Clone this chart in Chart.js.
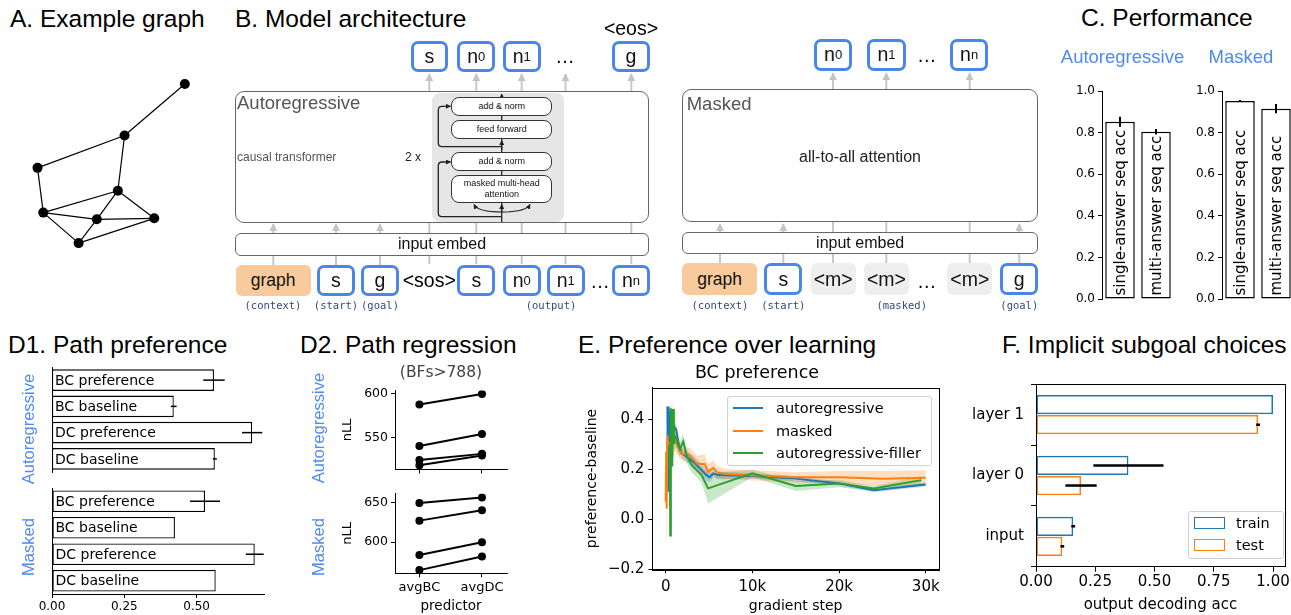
<!DOCTYPE html>
<html>
<head>
<meta charset="utf-8">
<title>Path planning figure</title>
<script src="https://cdn.jsdelivr.net/npm/chart.js@4.4.1/dist/chart.umd.min.js"></script>
<style>
body { margin:0; width:1291px; height:615px; position:relative; overflow:hidden; background:#fff; font-family:"Liberation Sans", Arial, sans-serif; }
canvas { position:absolute; }
.t { position:absolute; white-space:nowrap; line-height:1; z-index:6; }
.title { position:absolute; white-space:nowrap; line-height:1; font-size:24.5px; color:#000; }
.group { position:absolute; white-space:nowrap; line-height:1; color:#4e8af0; font-size:16.6px; transform:translate(-50%,-50%) rotate(-90deg); }
.tok { position:absolute; box-sizing:border-box; border:3px solid #4a86e8; border-radius:7px; background:#fff; display:flex; align-items:center; justify-content:center; font-size:19.5px; color:#111; z-index:3; }
.ctx { position:absolute; box-sizing:border-box; background:#f9cb9c; border-radius:6px; display:flex; align-items:center; justify-content:center; font-size:17.5px; color:#111; z-index:3; }
.msk { position:absolute; box-sizing:border-box; background:#eeeeee; border-radius:6px; display:flex; align-items:center; justify-content:center; font-size:19.5px; color:#111; z-index:3; }
.frame { position:absolute; box-sizing:border-box; border:1.6px solid #666; border-radius:9px; background:#fff; z-index:2; }
.embed { position:absolute; box-sizing:border-box; border:1.3px solid #666; border-radius:6px; background:#fff; z-index:2; display:flex; align-items:center; justify-content:center; font-size:16px; color:#111; }
.blk { position:absolute; background:#e6e6e6; border-radius:8px; z-index:3; }
.inner { position:absolute; box-sizing:border-box; border:1.2px solid #333; border-radius:8px; background:#fff; z-index:5; display:flex; align-items:center; justify-content:center; text-align:center; font-size:9px; line-height:11px; color:#111; }
.sub { font-size:13px; }
.legend { position:absolute; box-sizing:border-box; border:1px solid #d0d0d0; border-radius:3px; background:rgba(255,255,255,0.85); z-index:5; font-family:"DejaVu Sans", sans-serif; font-size:14.5px; }
</style>
</head>
<body>
<script>
// ---------- data ----------

// A. example graph (node layout)
var nodeX = [188, 125, 34, 118, 40, 96, 156, 77];
var nodeY = [80, 134, 168, 192, 215, 222, 221, 247];
var edges = [[0,1],[1,2],[1,3],[2,4],[4,3],[4,5],[4,7],[3,5],[3,6],[5,6],[5,7],[7,6]];

// C. performance
var perfLabels = ['single-answer seq acc', 'multi-answer seq acc'];
var perfAR = [0.852, 0.804];
var perfARErr = [0.024, 0.013];
var perfMasked = [0.952, 0.915];
var perfMaskedErr = [0.005, 0.022];
var accTicks = [0, 0.2, 0.4, 0.6, 0.8, 1.0];

// D1. path preference
var prefLabels = ['BC preference', 'BC baseline', 'DC preference', 'DC baseline'];
var prefAR = [0.56, 0.421, 0.692, 0.563];
var prefARErr = [0.037, 0.01, 0.035, 0.007];
var prefMasked = [0.529, 0.425, 0.701, 0.566];
var prefMaskedErr = [0.052, 0, 0.031, 0];
var prefTicks = [0, 0.25, 0.5];

// D2. path regression (nLL for avgBC, avgDC)
var predictors = ['avgBC', 'avgDC'];
var nllAR = [[588, 600], [540, 554], [524, 531], [518, 529]];
var nllMasked = [[649, 656], [627, 640], [584, 600], [565, 582]];
var nllARTicks = [550, 600];
var nllMaskedTicks = [600, 650];

// E. preference over learning
var arSteps  = [200, 260, 310, 360, 420, 600, 900, 1200, 1500, 1850, 2400, 3200, 3950, 4700, 5100, 5500, 6000, 10000, 15000, 20000, 24000, 30000];
var arMean   = [0.45, 0.12, 0.45, 0.11, 0.43, 0.36, 0.37, 0.36, 0.30, 0.263, 0.25, 0.229, 0.203, 0.176, 0.168, 0.183, 0.176, 0.172, 0.162, 0.143, 0.116, 0.139];
var arSpread = [0.01, 0.01, 0.01, 0.01, 0.02, 0.02, 0.02, 0.02, 0.02, 0.02, 0.02, 0.025, 0.025, 0.02, 0.02, 0.015, 0.015, 0.01, 0.01, 0.008, 0.008, 0.008];
var mkSteps  = [0, 60, 120, 200, 300, 500, 880, 1100, 1260, 1650, 2000, 2800, 3570, 3950, 4500, 4900, 5500, 6000, 7000, 10000, 15000, 20000, 25000, 30000];
var mkMean   = [0.07, 0.27, 0.043, 0.336, 0.30, 0.30, 0.32, 0.31, 0.30, 0.27, 0.26, 0.255, 0.223, 0.22, 0.22, 0.19, 0.205, 0.185, 0.18, 0.175, 0.167, 0.167, 0.162, 0.165];
var mkSpread = [0.15, 0.12, 0.12, 0.08, 0.06, 0.05, 0.04, 0.04, 0.04, 0.03, 0.03, 0.03, 0.03, 0.035, 0.04, 0.03, 0.03, 0.025, 0.02, 0.02, 0.02, 0.025, 0.03, 0.03];
var flSteps  = [480, 530, 600, 680, 760, 850, 950, 1100, 1250, 1400, 1650, 1840, 2030, 2400, 3000, 3570, 4140, 4900, 10000, 15000, 20000, 24000, 29500];
var flMean   = [0.30, -0.065, 0.443, 0.40, 0.21, 0.44, 0.30, 0.33, 0.323, 0.30, 0.28, 0.296, 0.31, 0.256, 0.216, 0.196, 0.176, 0.123, 0.183, 0.133, 0.143, 0.123, 0.156];
var flSpread = [0.05, 0.05, 0.05, 0.05, 0.06, 0.06, 0.05, 0.05, 0.04, 0.04, 0.03, 0.03, 0.03, 0.03, 0.03, 0.03, 0.03, 0.06, 0.015, 0.02, 0.015, 0.01, 0.015];
var stepTicks = [0, 10000, 20000, 30000];
var diffTicks = [-0.2, 0, 0.2, 0.4];

// F. implicit subgoal choices
var layers = ['layer 1', 'layer 0', 'input'];
var decTrain = [1.0, 0.39, 0.157];
var decTrainErr = [0, 0.148, 0.008];
var decTest = [0.937, 0.19, 0.111];
var decTestErr = [0.008, 0.066, 0.008];
var decTicks = [0, 0.25, 0.5, 0.75, 1.0];

// ---------- helpers ----------
var BLUE = '#1f77b4', ORANGE = '#ff7f0e', GREEN = '#2ca02c';

Chart.defaults.font.family = "'DejaVu Sans', sans-serif";
Chart.defaults.color = '#000';
Chart.defaults.animation = false;
Chart.defaults.responsive = false;
Chart.defaults.devicePixelRatio = 1;
Chart.defaults.plugins.legend.display = false;
Chart.defaults.plugins.tooltip.enabled = false;

// black error bars from dataset.errors
var errorBars = {
    id: 'errorBars',
    afterDatasetsDraw: function(chart){
        var ctx = chart.ctx;
        var horiz = chart.options.indexAxis === 'y';
        var vScale = horiz ? chart.scales.x : chart.scales.y;
        chart.data.datasets.forEach(function(ds, i){
            if(!ds.errors) return;
            var meta = chart.getDatasetMeta(i);
            ctx.save();
            ctx.strokeStyle = '#000';
            ctx.lineWidth = ds.errWidth || 2;
            meta.data.forEach(function(bar, j){
                var e = ds.errors[j];
                if(!e) return;
                var a = vScale.getPixelForValue(ds.data[j] - e);
                var b = vScale.getPixelForValue(ds.data[j] + e);
                ctx.beginPath();
                if(horiz){ ctx.moveTo(a, bar.y); ctx.lineTo(b, bar.y); }
                else { ctx.moveTo(bar.x, a); ctx.lineTo(bar.x, b); }
                ctx.stroke();
            });
            ctx.restore();
        });
    }
};

// category names written inside the bars
var barText = {
    id: 'barText',
    afterDatasetsDraw: function(chart, args, opts){
        if(!opts.labels) return;
        var ctx = chart.ctx;
        var meta = chart.getDatasetMeta(0);
        ctx.save();
        ctx.fillStyle = '#000';
        ctx.font = opts.font;
        meta.data.forEach(function(bar, j){
            if(chart.options.indexAxis === 'y'){
                ctx.textAlign = 'left';
                ctx.textBaseline = 'middle';
                ctx.fillText(opts.labels[j], bar.base + 3, bar.y + 1);
            } else {
                ctx.save();
                ctx.translate(bar.x + 1, bar.base - 3);
                ctx.rotate(-Math.PI / 2);
                ctx.textAlign = 'left';
                ctx.textBaseline = 'middle';
                ctx.fillText(opts.labels[j], 0, 0);
                ctx.restore();
            }
        });
        ctx.restore();
    }
};

// full box around the plot area
var frame = {
    id: 'frame',
    afterDraw: function(chart, args, opts){
        if(!opts.show) return;
        var a = chart.chartArea, ctx = chart.ctx;
        ctx.save();
        ctx.strokeStyle = '#000';
        ctx.lineWidth = 1;
        ctx.strokeRect(Math.round(a.left) + 0.5, Math.round(a.top) + 0.5, Math.round(a.right - a.left), Math.round(a.bottom - a.top));
        ctx.restore();
    }
};
Chart.register(errorBars, barText, frame);

function makeCanvas(x, y, w, h){
    var c = document.createElement('canvas');
    c.width = w;
    c.height = h;
    c.style.left = x + 'px';
    c.style.top = y + 'px';
    document.body.appendChild(c);
    return c.getContext('2d');
}

// matplotlib looking axis
function axis(o){
    var a = {
        type: o.type || 'linear',
        display: o.display === false ? false : true,
        grid: { drawOnChartArea: false, drawTicks: o.tick !== 0, tickLength: o.tick || 4, color: '#000' },
        border: { display: true, color: '#000', width: 1 },
        ticks: { display: o.labels !== false, color: '#000', padding: o.pad || 3, font: { size: o.size || 12 }, autoSkip: false, maxRotation: 0 }
    };
    if(o.min !== undefined) a.min = o.min;
    if(o.max !== undefined) a.max = o.max;
    if(o.reverse) a.reverse = true;
    if(o.fmt) a.ticks.callback = o.fmt;
    if(o.values) a.afterBuildTicks = function(s){ s.ticks = o.values.map(function(v){ return { value: v }; }); };
    if(o.width) a.afterFit = function(s){ s.width = o.width; };
    if(o.height) a.afterFit = function(s){ s.height = o.height; };
    if(o.title) a.title = { display: true, text: o.title, color: '#000', font: { size: o.titleSize || 13 }, padding: { top: o.titlePad || 0, bottom: o.titlePad || 0 } };
    return a;
}

function pts(xs, ys){
    return xs.map(function(x, i){ return { x: x, y: ys[i] }; });
}
function bandPts(xs, ys, sp, sign){
    return xs.map(function(x, i){ return { x: x, y: ys[i] + sign * sp[i] }; });
}

function put(cls, x, y, w, h, html){
    var d = document.createElement('div');
    d.className = cls;
    d.style.left = x + 'px';
    d.style.top = y + 'px';
    if(w != null){ d.style.width = w + 'px'; d.style.height = h + 'px'; }
    if(html != null) d.innerHTML = html;
    document.body.appendChild(d);
    return d;
}
// text with its vertical middle at y
function text(x, y, html, css, center){
    var d = put('t', x, y, null, null, html);
    d.style.cssText += ';' + (css || '') + ';transform:translate(' + (center ? '-50%' : '0') + ',-50%)';
    return d;
}
function title(x, baseline, s){
    put('title', x, baseline - 20.7, null, null, s);
}
function group(x, y, s, size){
    var d = put('group', x, y, null, null, s);
    if(size) d.style.fontSize = size + 'px';
}

var NS = 'http://www.w3.org/2000/svg';
function svgLayer(z, id, color, size){
    var s = document.createElementNS(NS, 'svg');
    s.setAttribute('width', 1291);
    s.setAttribute('height', 615);
    s.style.cssText = 'position:absolute;left:0;top:0;z-index:' + z;
    s.innerHTML = '<defs><marker id="' + id + '" viewBox="0 0 10 10" refX="9" refY="5" markerWidth="' + size +
        '" markerHeight="' + size + '" markerUnits="userSpaceOnUse" orient="auto"><path d="M0,0 L10,5 L0,10 z" fill="' + color + '"/></marker></defs>';
    document.body.appendChild(s);
    return s;
}
function arrow(svg, d, color, width, marker){
    var p = document.createElementNS(NS, 'path');
    p.setAttribute('d', d);
    p.setAttribute('fill', 'none');
    p.setAttribute('stroke', color);
    p.setAttribute('stroke-width', width);
    if(marker) p.setAttribute('marker-end', 'url(#' + marker + ')');
    svg.appendChild(p);
}

// ---------- titles ----------
title(10, 27.7, 'A. Example graph');
title(235, 27.7, 'B. Model architecture');
title(1081, 27, 'C. Performance');
title(8, 353.3, 'D1. Path preference');
title(300, 354, 'D2. Path regression');
title(578, 354, 'E. Preference over learning');
title(1002, 354, 'F. Implicit subgoal choices');

// ---------- A. graph ----------
var graphSets = edges.map(function(e){
    return { data: [{ x: nodeX[e[0]], y: nodeY[e[0]] }, { x: nodeX[e[1]], y: nodeY[e[1]] }],
        borderColor: '#000', borderWidth: 1.2, pointRadius: 0 };
});
graphSets.unshift({ data: pts(nodeX, nodeY), showLine: false, pointRadius: 5, pointBackgroundColor: '#000', pointBorderWidth: 0 });
new Chart(makeCanvas(0, 60, 230, 210), {
    type: 'line',
    data: { datasets: graphSets },
    options: {
        layout: { padding: 0 },
        scales: {
            x: { type: 'linear', display: false, min: 0, max: 230 },
            y: { type: 'linear', display: false, min: 60, max: 270, reverse: true }
        }
    }
});

// ---------- B. architecture ----------
function drawArchitecture(){
    var back = svgLayer(1, 'mg', '#c4c4c4', 8);
    var front = svgLayer(4, 'md', '#222', 5);
    var g = '#c8c8c8';

    // autoregressive
    [273.3, 336, 380].forEach(function(x){ arrow(back, 'M' + x + ',266 V224', g, 2, 'mg'); });
    [429.3, 476.3, 521.7, 565.5, 631.3].forEach(function(x){ arrow(back, 'M' + x + ',264 V74', g, 2, 'mg'); });
    put('frame', 235, 90.7, 414, 132);
    put('blk', 431.7, 92.7, 132.3, 129);
    put('embed', 235, 232.7, 414, 23, 'input embed');
    arrow(front, 'M501.7,222 V94', '#222', 1.3, 'md');
    arrow(front, 'M501.7,150 V140.5', '#222', 1.3, 'md');
    arrow(front, 'M501.7,216.7 H442 Q438.3,216.7 438.3,213 V166 Q438.3,162 442,162 H450.5', '#222', 1.3, 'md');
    arrow(front, 'M501.7,146.7 H442 Q438.3,146.7 438.3,143 V110 Q438.3,106.3 442,106.3 H450.5', '#222', 1.3, 'md');
    arrow(front, 'M501.7,212 Q478,212 474,204.5', '#222', 1.1, 'md');
    arrow(front, 'M501.7,212 Q526,212 530,204.5', '#222', 1.1, 'md');
    arrow(front, 'M501.7,212 V204.5', '#222', 1.1, 'md');
    put('inner', 451.3, 96.7, 101, 19.3, 'add &amp; norm');
    put('inner', 451.3, 120, 101, 19, 'feed forward');
    put('inner', 451.3, 152.3, 101, 19, 'add &amp; norm');
    put('inner', 451.3, 175, 101, 28.3, 'masked multi-head<br>attention');
    text(237, 103.3, 'Autoregressive', 'font-size:18.5px;color:#555');
    text(237, 156.7, 'causal transformer', 'font-size:12px;color:#555');
    text(405, 157, '2 x', 'font-size:12px;color:#222');

    put('tok', 410.7, 40.7, 37.6, 31.6, 's');
    put('tok', 457.3, 40.7, 38, 31.6, 'n<span class="sub">0</span>');
    put('tok', 502.7, 40.7, 38, 31.6, 'n<span class="sub">1</span>');
    text(565, 57, '&hellip;', 'font-size:19.5px', true);
    put('tok', 612, 40.7, 38, 31.6, 'g');
    text(631, 29, '&lt;eos&gt;', 'font-size:19.5px', true);

    put('ctx', 235.7, 265, 75, 30.7, 'graph');
    put('tok', 316.7, 265, 38.3, 30.7, 's');
    put('tok', 361, 265, 38, 30.7, 'g');
    text(429.3, 281, '&lt;sos&gt;', 'font-size:19.5px', true);
    put('tok', 457.3, 265, 38, 30.7, 's');
    put('tok', 502.7, 265, 38, 30.7, 'n<span class="sub">0</span>');
    put('tok', 546.7, 265, 38, 30.7, 'n<span class="sub">1</span>');
    text(600, 282, '&hellip;', 'font-size:19.5px', true);
    put('tok', 612, 265, 38, 30.7, 'n<span class="sub">n</span>');
    var mono = 'font-family:"DejaVu Sans Mono",monospace;font-size:10.5px;color:#2b4c7e';
    text(273, 305, '(context)', mono, true);
    text(336, 305, '(start)', mono, true);
    text(380, 305, '(goal)', mono, true);
    text(551, 305, '(output)', mono, true);

    // masked
    [720, 783.3, 1019.3].forEach(function(x){ arrow(back, 'M' + x + ',264 V224', g, 2, 'mg'); });
    [833, 886.3, 969.7].forEach(function(x){ arrow(back, 'M' + x + ',264 V73', g, 2, 'mg'); });
    put('frame', 682, 89.3, 356.3, 133);
    put('embed', 682, 231.7, 356.3, 22.6, 'input embed');
    text(686.7, 104, 'Masked', 'font-size:18.5px;color:#555');
    text(860, 156.7, 'all-to-all attention', 'font-size:16px;color:#222', true);
    put('tok', 814, 39, 38.3, 31.7, 'n<span class="sub">0</span>');
    put('tok', 867.3, 39, 38.3, 31.7, 'n<span class="sub">1</span>');
    text(926.7, 56, '&hellip;', 'font-size:19.5px', true);
    put('tok', 950, 39, 38.3, 31.7, 'n<span class="sub">n</span>');
    put('ctx', 682, 263.3, 75.3, 31.7, 'graph');
    put('tok', 764.3, 263.3, 38, 31.7, 's');
    put('msk', 810.7, 263.3, 45, 31.7, '&lt;m&gt;');
    put('msk', 864, 263.3, 45, 31.7, '&lt;m&gt;');
    text(926.7, 282, '&hellip;', 'font-size:19.5px', true);
    put('msk', 947.3, 263.3, 45, 31.7, '&lt;m&gt;');
    put('tok', 1000, 263.3, 38.3, 31.7, 'g');
    text(720, 304.7, '(context)', mono, true);
    text(783.3, 304.7, '(start)', mono, true);
    text(901.7, 304.7, '(masked)', mono, true);
    text(1019.3, 304.7, '(goal)', mono, true);
}
drawArchitecture();

// ---------- C. performance ----------
function perfChart(x, w, values, errs){
    return new Chart(makeCanvas(x, 80, w, 230), {
        type: 'bar',
        data: { labels: perfLabels, datasets: [{ data: values, errors: errs, errWidth: 2,
            backgroundColor: '#fff', borderColor: '#000', borderWidth: 1.5, borderSkipped: false,
            barPercentage: 0.82, categoryPercentage: 1 }] },
        options: {
            layout: { padding: { left: 0, right: w - 42 - 72, top: 11, bottom: 11 } },
            plugins: { barText: { labels: perfLabels, font: "15px 'DejaVu Sans'" } },
            scales: {
                x: { type: 'category', display: false },
                y: axis({ min: 0, max: 1, values: accTicks, width: 42, fmt: function(v){ return v.toFixed(1); } })
            }
        }
    });
}
perfChart(1060, 120, perfAR, perfARErr);
perfChart(1180, 114, perfMasked, perfMaskedErr);
text(1122.5, 57.3, 'Autoregressive', 'font-size:18.5px;color:#4e8af0', true);
text(1241, 57, 'Masked', 'font-size:18.5px;color:#4e8af0', true);

// ---------- D1. path preference ----------
function prefChart(y, h, values, errs, pad, showX){
    return new Chart(makeCanvas(0, y, 290, h), {
        type: 'bar',
        data: { labels: prefLabels, datasets: [{ data: values, errors: errs, errWidth: 1.5,
            backgroundColor: '#fff', borderColor: '#000', borderWidth: 1.3, borderSkipped: false,
            barPercentage: 0.82, categoryPercentage: 1 }] },
        options: {
            indexAxis: 'y',
            layout: { padding: pad },
            plugins: { barText: { labels: prefLabels, font: "14px 'DejaVu Sans'" } },
            scales: {
                y: axis({ type: 'category', width: 52, labels: false, tick: 0 }),
                x: showX ? axis({ min: 0, max: 0.733, values: prefTicks, height: 21, pad: 2, fmt: function(v){ return v.toFixed(2); } })
                         : { type: 'linear', display: false, min: 0, max: 0.733 }
            }
        }
    });
}
prefChart(355, 125, prefAR, prefARErr, { top: 12, bottom: 8, right: 26 }, false);
prefChart(475, 140, prefMasked, prefMaskedErr, { top: 13, right: 26 }, true);
group(29, 428.7, 'Autoregressive');
group(29, 546.7, 'Masked');

// ---------- D2. path regression ----------
function nllChart(y, h, rows, ticks, lo, hi, pad, showX){
    var sets = rows.map(function(r){
        return { data: [{ x: 0, y: r[0] }, { x: 1, y: r[1] }], borderColor: '#000', borderWidth: 2,
            pointRadius: 4, pointBackgroundColor: '#000', pointBorderWidth: 0 };
    });
    return new Chart(makeCanvas(340, y, 175, h), {
        type: 'line',
        data: { datasets: sets },
        options: {
            layout: { padding: pad },
            scales: {
                y: axis({ min: lo, max: hi, values: ticks, width: 55, size: 12.5, title: 'nLL' }),
                x: showX ? axis({ min: -0.39, max: 1.4, values: [0, 1], height: 41.7, pad: 3, size: 13,
                                  fmt: function(v){ return predictors[v]; }, title: 'predictor', titleSize: 13.5 })
                         : axis({ min: -0.39, max: 1.4, values: [0, 1], height: 8.3, labels: false })
            }
        }
    });
}
nllChart(380, 100, nllAR, nllARTicks, 513, 604, { top: 7, right: 8 }, false);
nllChart(483, 132, nllMasked, nllMaskedTicks, 561, 661, { top: 5.3, right: 8 }, true);
text(441, 373, '(BFs&gt;788)', 'font-family:"DejaVu Sans";font-size:15.5px;color:#444', true);
group(319, 428.3, 'Autoregressive');
group(319, 546.7, 'Masked');

// ---------- E. preference over learning ----------
function bandSets(xs, ys, sp, fillColor){
    return [
        { data: bandPts(xs, ys, sp, 1), borderColor: 'rgba(0,0,0,0)', borderWidth: 0, pointRadius: 0, fill: '+1', backgroundColor: fillColor, order: 10 },
        { data: bandPts(xs, ys, sp, -1), borderColor: 'rgba(0,0,0,0)', borderWidth: 0, pointRadius: 0, fill: false, order: 10 }
    ];
}
var eSets = [].concat(
    bandSets(arSteps, arMean, arSpread, 'rgba(31,119,180,0.25)'),
    bandSets(mkSteps, mkMean, mkSpread, 'rgba(255,127,14,0.25)'),
    bandSets(flSteps, flMean, flSpread, 'rgba(44,160,44,0.25)'),
    [
        { label: 'autoregressive', data: pts(arSteps, arMean), borderColor: BLUE, borderWidth: 2, pointRadius: 0, fill: false, order: 3 },
        { label: 'masked', data: pts(mkSteps, mkMean), borderColor: ORANGE, borderWidth: 2, pointRadius: 0, fill: false, order: 2 },
        { label: 'autoregressive-filler', data: pts(flSteps, flMean), borderColor: GREEN, borderWidth: 2, pointRadius: 0, fill: false, order: 1 }
    ]
);
new Chart(makeCanvas(575, 365, 380, 250), {
    type: 'line',
    data: { datasets: eSets },
    options: {
        layout: { padding: { right: 16 } },
        plugins: {
            frame: { show: true },
            title: { display: true, text: 'BC preference', color: '#000', font: { size: 17.5, weight: 'normal', lineHeight: 1 }, padding: { top: 0, bottom: 5.2 } }
        },
        scales: {
            x: axis({ min: -1540, max: 31530, values: stepTicks, height: 45.7, size: 15, pad: 5,
                      fmt: function(v){ return v === 0 ? '0' : (v / 1000) + 'k'; }, title: 'gradient step', titleSize: 14 }),
            y: axis({ min: -0.2, max: 0.525, values: diffTicks, width: 77.3, size: 15, pad: 4,
                      fmt: function(v){ return v.toFixed(1).replace('-', '\u2212'); }, title: 'preference-baseline', titleSize: 14, titlePad: 8.6 })
        }
    }
});
var eLegend = put('legend', 726.7, 396, 205, 70);
[['autoregressive', BLUE, 408], ['masked', ORANGE, 431], ['autoregressive-filler', GREEN, 453]].forEach(function(item){
    put('t', 733, item[2] - 1.25, 30, 2.5).style.background = item[1];
    text(776, item[2], item[0], 'font-family:"DejaVu Sans";font-size:14.5px');
});

// ---------- F. implicit subgoal choices ----------
new Chart(makeCanvas(960, 365, 331, 250), {
    type: 'bar',
    data: {
        labels: layers,
        datasets: [
            { label: 'train', data: decTrain, errors: decTrainErr, errWidth: 2.5, backgroundColor: 'rgba(0,0,0,0)', borderColor: BLUE,
              borderWidth: 1.5, borderSkipped: false, barPercentage: 0.96, categoryPercentage: 0.66 },
            { label: 'test', data: decTest, errors: decTestErr, errWidth: 2.5, backgroundColor: 'rgba(0,0,0,0)', borderColor: ORANGE,
              borderWidth: 1.5, borderSkipped: false, barPercentage: 0.96, categoryPercentage: 0.66 }
        ]
    },
    options: {
        indexAxis: 'y',
        layout: { padding: { top: 19.3, right: 6 } },
        plugins: { frame: { show: true } },
        scales: {
            y: axis({ type: 'category', width: 76, size: 15, tick: 5, pad: 7 }),
            x: axis({ min: 0, max: 1.05, values: decTicks, height: 48.3, size: 15, pad: 1, tick: 5,
                      fmt: function(v){ return v.toFixed(2); }, title: 'output decoding acc', titleSize: 15, titlePad: 1 })
        }
    }
});
put('legend', 1188, 511, 96, 48);
[['train', BLUE, 523], ['test', ORANGE, 545]].forEach(function(item){
    var sw = put('t', 1194, item[2] - 6, 31, 12);
    sw.style.boxSizing = 'border-box';
    sw.style.border = '1.5px solid ' + item[1];
    text(1236, item[2], item[0], 'font-family:"DejaVu Sans";font-size:14.5px');
});
</script>
</body>
</html>
